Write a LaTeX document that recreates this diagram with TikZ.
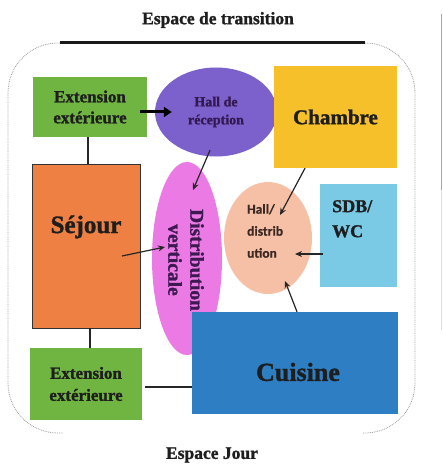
\documentclass[tikz,border=0pt]{standalone}
\usepackage{fontspec}
\setmainfont{Liberation Serif}[BoldFeatures={FakeBold=1.3}]
\newfontfamily\calib{Carlito}[BoldFeatures={FakeBold=0.6}]
\usetikzlibrary{arrows.meta,shapes.geometric,calc}
\definecolor{cgreen}{RGB}{112,180,66}
\definecolor{cpurple}{RGB}{124,96,204}
\definecolor{cgold}{RGB}{245,192,42}
\definecolor{corange}{RGB}{238,128,68}
\definecolor{cpink}{RGB}{236,122,228}
\definecolor{cpeach}{RGB}{246,192,166}
\definecolor{clblue}{RGB}{122,202,230}
\definecolor{cblue}{RGB}{46,126,196}
\definecolor{ctext}{RGB}{30,30,30}
\tikzset{
  box/.style={rectangle, inner sep=0pt, text=ctext, font=\bfseries, align=center},
  oval/.style={ellipse, inner sep=0pt, text=ctext, font=\bfseries, align=center},
  conn/.style={line width=1.2pt, black!85},
  arr/.style={conn, -{Stealth[length=7pt,width=6pt]}},
  frame/.style={densely dotted, gray!80, line width=0.8pt, rounded corners=50pt},
}
\begin{document}
\begin{tikzpicture}[x=1pt,y=-1pt]
\useasboundingbox[fill=white] (0,0) rectangle (443,468);
% edge line of the scan
\draw[gray!70, line width=1.2pt] (441.5,14) -- (441.5,190);
\draw[gray!25, line width=1.2pt] (441.5,190) -- (441.5,330);
% titles
\node[font=\fontsize{17.5}{20}\selectfont\bfseries, text=ctext] (titre) at (218,20) {Espace de transition};
\node[font=\fontsize{17.5}{20}\selectfont\bfseries, text=ctext] (jour) at (212,455) {Espace Jour};
% frame
\coordinate (tl) at (60,43);
\coordinate (tr) at (365,43);
\coordinate (bl) at (63,433);
\coordinate (br) at (363,433);
\draw[frame] (tl) -| (8,433) -- (bl);
\draw[frame] (tr) -| (415,433) -- (br);
\draw[line width=3pt, black!90] (tl) -- (tr);
% nodes
\node[box, fill=cgreen, minimum width=114pt, minimum height=60pt,
      font=\fontsize{17}{21}\selectfont\bfseries] (ext1) at (90,107) {Extension\\extérieure};
\node[oval, fill=cpurple, minimum width=122pt, minimum height=89pt,
      font=\fontsize{14}{18}\selectfont\bfseries, text={rgb,255:red,50;green,25;blue,80}] (hall) at (216,112) {Hall de\\réception};
\node[box, fill=cgold, minimum width=123pt, minimum height=102pt,
      font=\fontsize{21}{24}\selectfont\bfseries] (chambre) at (335.5,117) {Chambre};
\node[box, fill=corange, draw=black!80, line width=0.6pt, minimum width=108pt, minimum height=164pt] (sejour) at (86,246) {};
\node[font=\fontsize{25}{28}\selectfont\bfseries, text=ctext] (sejourt) at (86,227) {Séjour};
\node[oval, fill=cpink, minimum width=70pt, minimum height=193pt] (distv) at (187,258.5) {};
\node[rotate=-90, font=\fontsize{19.5}{22}\selectfont\bfseries, text={rgb,255:red,60;green,25;blue,80}, align=center] (distvt) at (186,260) {Distribution\\verticale};
\node[oval, fill=cpeach, minimum width=88pt, minimum height=112pt] (halld) at (268,238) {};
\node[font=\calib\fontsize{13.5}{22}\selectfont\bfseries, text={rgb,255:red,60;green,40;blue,35}, align=left, anchor=north west, inner sep=0pt] (halldt) at (247,204) {Hall/\\distrib\\ution};
\node[box, fill=clblue, minimum width=77pt, minimum height=103pt] (sdb) at (358.5,235.5) {};
\node[font=\fontsize{18}{25}\selectfont\bfseries, text=ctext, align=left, anchor=north west, inner sep=0pt] (sdbt) at (332,200) {SDB/\\WC};
\node[box, fill=cblue, minimum width=206pt, minimum height=102pt] (cuisine) at (295,363) {};
\node[font=\fontsize{26}{30}\selectfont\bfseries, text=ctext] (cuisinet) at (298,372) {Cuisine};
\node[box, fill=cgreen, minimum width=112pt, minimum height=72pt,
      font=\fontsize{17}{22}\selectfont\bfseries] (ext2) at (86,384) {Extension\\extérieure};
% connectors
\draw[line width=3pt, -{Triangle[length=8pt,width=10pt]}] (ext1.east) ++(-7,5) -- ($(hall.west)+(17,0)$);
\draw[conn] (ext1.south -| 88,0) -- (sejour.north -| 88,0);
\draw[arr] (hall.south) ++(-6,-6.5) -- (193,190);
\draw[arr] (chambre.south) ++(-30.5,0) -- (280,215);
\draw[arr] (122,256) -- (165,247);
\draw[arr] (sdb.west) ++(3,18.5) -- (295,254);
\draw[arr] (cuisine.north) ++(2,0) -- (285,281);
\draw[conn] (sejour.south -| 90,0) -- (ext2.north -| 90,0);
\draw[conn] (ext2.east |- 0,387) ++(3,0) -- (cuisine.west |- 0,387);
\end{tikzpicture}
\end{document}
